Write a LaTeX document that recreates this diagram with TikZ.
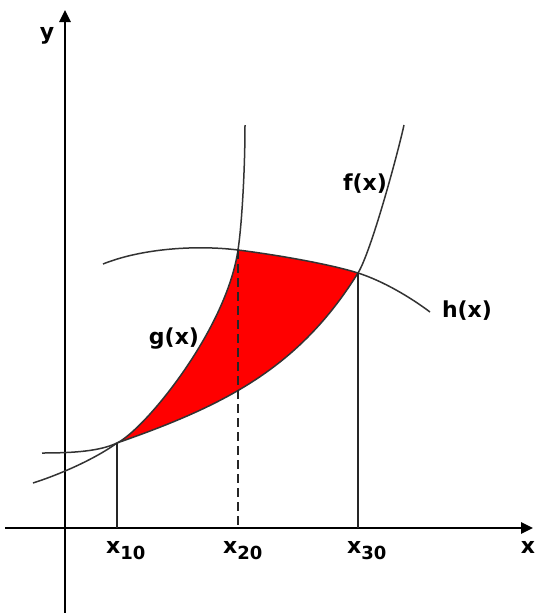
\documentclass[tikz,border=0pt]{standalone}
\usepackage{fontspec}
\setmainfont{DejaVu Sans}
\usetikzlibrary{arrows.meta}

\newcommand{\lowidx}[1]{\raisebox{-6pt}{\fontsize{18}{20}\selectfont #1}}

\begin{document}
\begin{tikzpicture}[
    x=1pt, y=-1pt,
    axis/.style={line width=2.6pt, -{Triangle[length=12pt, width=11pt]}},
    curve/.style={line width=1.5pt, black!80},
    drop/.style={line width=1.4pt, black!85},
    region/.style={fill=red},
    lab/.style={font=\fontsize{22}{25}\selectfont\bfseries, inner sep=0pt}
]

\useasboundingbox (0,0) rectangle (535,613);

% Origin and intersection points
\coordinate (o) at (65,528);
\coordinate (p1) at (117,443);
\coordinate (p2) at (238,250);
\coordinate (p3) at (358,273);

% Shaded region between g, h and f
\fill[region] (p1) .. controls (144,430) and (226,331) .. (p2)
    .. controls (278,255) and (331,264.4) .. (p3)
    .. controls (298.2,369) and (223.5,405.7) .. (p1) -- cycle;

% Axes
\draw[axis] (65,613) -- (65,10);
\draw[axis] (5,528) -- (533,528);

% Curve g
\draw[curve] (42,453) .. controls (75,453) and (100,451) .. (p1)
    .. controls (144,430) and (226,331) .. (p2)
    .. controls (241.8,225) and (245,170) .. (245,125);

% Curve h
\draw[curve] (103,264) .. controls (143,248) and (198,245) .. (p2)
    .. controls (278,255) and (331,264.4) .. (p3)
    .. controls (383,281) and (410,297) .. (430,312);

% Curve f
\draw[curve] (33,483) .. controls (63,473.4) and (97,457.6) .. (p1)
    .. controls (223.5,405.7) and (298.2,369) .. (p3)
    .. controls (371,252) and (397.4,155) .. (404,125);

% Drops to the x axis
\draw[drop] (p1) -- (p1 |- o);
\draw[drop, dash pattern=on 9pt off 5pt] (p2) -- (p2 |- o);
\draw[drop] (p3) -- (p3 |- o);

% Labels
\node[lab, anchor=base] (ylab) at (47,39) {y};
\node[lab, anchor=base] (xlab) at (528,553) {x};
\node[lab, anchor=base] (flab) at (365,190) {f(x)};
\node[lab, anchor=base] (glab) at (174,344) {g(x)};
\node[lab, anchor=base] (hlab) at (467,317) {h(x)};
\node[lab, anchor=base west] (t10) at (106,553) {x\lowidx{10}};
\node[lab, anchor=base west] (t20) at (223,553) {x\lowidx{20}};
\node[lab, anchor=base west] (t30) at (347,553) {x\lowidx{30}};

\end{tikzpicture}
\end{document}
